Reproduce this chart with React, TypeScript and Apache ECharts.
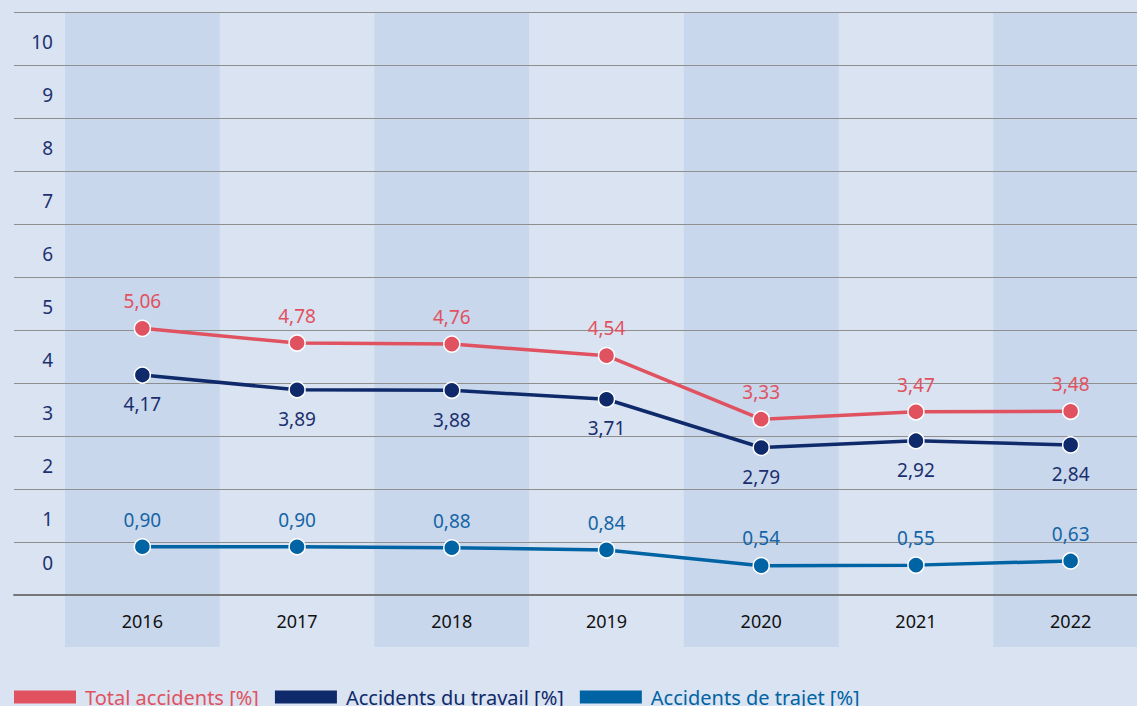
import React, { useEffect, useRef } from "react";
import * as echarts from "echarts";

const years = ["2016", "2017", "2018", "2019", "2020", "2021", "2022"];
const totalAccidents = [5.06, 4.78, 4.76, 4.54, 3.33, 3.47, 3.48];
const accidentsTravail = [4.17, 3.89, 3.88, 3.71, 2.79, 2.92, 2.84];
const accidentsTrajet = [0.9, 0.9, 0.88, 0.84, 0.54, 0.55, 0.63];
const seriesNames = ["Total accidents [%]", "Accidents du travail [%]", "Accidents de trajet [%]"];
const yMin = 0;
const yMax = 11;

const RED = "#e05260";
const NAVY = "#0f2a6b";
const BLUE = "#0063a3";
const FONT = "Noto Sans";

const fmt = (v: number) => v.toFixed(2).replace(".", ",");

export default function App() {
  const ref = useRef<HTMLDivElement>(null);
  useEffect(() => {
    if (!ref.current) return;
    document.body.style.overflow = "hidden";
    const chart = echarts.init(ref.current, undefined, { renderer: "svg" });
    const lineSeries = (name: string, data: number[], color: string, labelColor: string, pos: string, dist: number) => ({
      name,
      type: "line",
      xAxisIndex: 2,
      yAxisIndex: 2,
      data,
      symbol: "circle",
      symbolSize: 16,
      z: 5,
      lineStyle: { color, width: 3.5 },
      itemStyle: { color, borderColor: "#ffffff", borderWidth: 1.5 },
      label: {
        show: true,
        position: pos,
        distance: dist,
        color: labelColor,
        fontSize: 19,
        fontFamily: FONT,
        formatter: (p: any) => fmt(p.value),
      },
    });
    chart.setOption({
      animation: false,
      backgroundColor: "#dae3f1",
      textStyle: { fontFamily: FONT },
      grid: [
        { left: 65, top: 12, right: 0, bottom: 59 },
        { left: 14, top: 12, right: 11, bottom: 111 },
        { left: 65, top: 16.5, right: 0, bottom: 112 },
      ],
      xAxis: [
        {
          gridIndex: 0,
          type: "category",
          data: years,
          boundaryGap: true,
          z: 0,
          axisLine: { show: false },
          axisTick: { show: false },
          axisLabel: { show: false },
          splitLine: { show: false },
          splitArea: { show: true, areaStyle: { color: ["#c9d7ec", "rgba(0,0,0,0)"] } },
        },
        {
          gridIndex: 1,
          type: "value",
          min: 0,
          max: 1,
          z: 1,
          axisLine: { show: true, onZero: false, lineStyle: { color: "#777777", width: 2 } },
          axisTick: { show: false },
          axisLabel: { show: false },
          splitLine: { show: false },
        },
        {
          gridIndex: 2,
          type: "category",
          data: years,
          boundaryGap: true,
          axisLine: { show: false },
          axisTick: { show: false },
          axisLabel: { color: "#111111", fontSize: 18, fontFamily: FONT, margin: 18 },
          splitLine: { show: false },
        },
      ],
      yAxis: [
        {
          gridIndex: 0,
          type: "value",
          show: false,
        },
        {
          gridIndex: 1,
          type: "value",
          min: yMin,
          max: yMax,
          interval: 1,
          z: 1,
          axisLine: { show: false },
          axisTick: { show: false },
          splitLine: { show: true, lineStyle: { color: "#8f8f8f", width: 1 } },
          axisLabel: {
            inside: true,
            align: "right",
            margin: 39,
            color: "#1d3170",
            fontSize: 19,
            fontFamily: FONT,
            formatter: (v: number) => (v === yMax ? "" : v === 0 ? `{z|${v}}` : `{n|${v}}`),
            rich: {
              n: { padding: [0, 0, 46, 0], fontSize: 19, color: "#1d3170", fontFamily: FONT },
              z: { padding: [0, 0, 64, 0], fontSize: 19, color: "#1d3170", fontFamily: FONT },
            },
          },
        },
        {
          gridIndex: 2,
          type: "value",
          min: yMin,
          max: yMax,
          interval: 1,
          show: false,
        },
      ],
      legend: {
        left: 14,
        top: 687,
        icon: "rect",
        itemWidth: 62,
        itemHeight: 13,
        itemGap: 16,
        padding: 0,
        itemStyle: { borderWidth: 0 },
        textStyle: { fontSize: 20, fontFamily: FONT, padding: [0, 0, 0, 4] },
        data: [
          { name: seriesNames[0], textStyle: { color: RED } },
          { name: seriesNames[1], textStyle: { color: NAVY } },
          { name: seriesNames[2], textStyle: { color: BLUE } },
        ],
      },
      series: [
        lineSeries(seriesNames[0], totalAccidents, RED, RED, "top", 9),
        lineSeries(seriesNames[1], accidentsTravail, NAVY, "#1a2f6e", "bottom", 11),
        lineSeries(seriesNames[2], accidentsTrajet, BLUE, "#1565a6", "top", 9),
      ],
    });
    return () => chart.dispose();
  }, []);
  return (
    <div
      ref={ref}
      style={{ position: "fixed", left: 0, top: 0, width: 1148, height: 706 }}
    />
  );
}
